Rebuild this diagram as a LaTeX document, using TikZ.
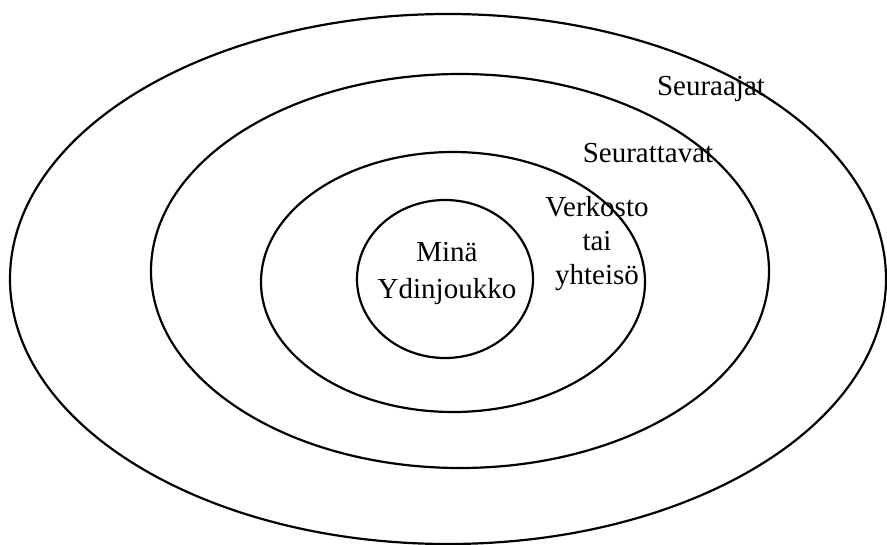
\documentclass[tikz,border=0pt]{standalone}
\usepackage{fontspec}
\setmainfont{Liberation Serif}
\begin{document}
\begin{tikzpicture}[x=1pt,y=-1pt,line join=round,line cap=round,font=\fontsize{29}{34}\selectfont]
	\useasboundingbox (0,0) rectangle (887,544);
	% rings, outside in
	\foreach\cx/\cy/\rx/\ry/\n in {448/279/438/265/seuraajat, 460/271/309/197/seurattavat, 453/282/192/130/verkosto, 445/279/88/79/mina}{
		\draw[line width=2.2pt] (\cx,\cy) coordinate (c-\n) ellipse [x radius=\rx pt, y radius=\ry pt];
	};
	\node[anchor=base] (t-seuraajat) at (711,95) {Seuraajat};
	\node[anchor=base] (t-seurattavat) at (648,162) {Seurattavat};
	\node[anchor=north,align=center,inner sep=0pt] (t-verkosto) at (597,196) {Verkosto\\tai\\yhteisö};
	\node[anchor=north,align=center,inner sep=0pt,font=\fontsize{29}{37}\selectfont] (t-mina) at (447,242) {Minä\\Ydinjoukko};
\end{tikzpicture}
\end{document}
